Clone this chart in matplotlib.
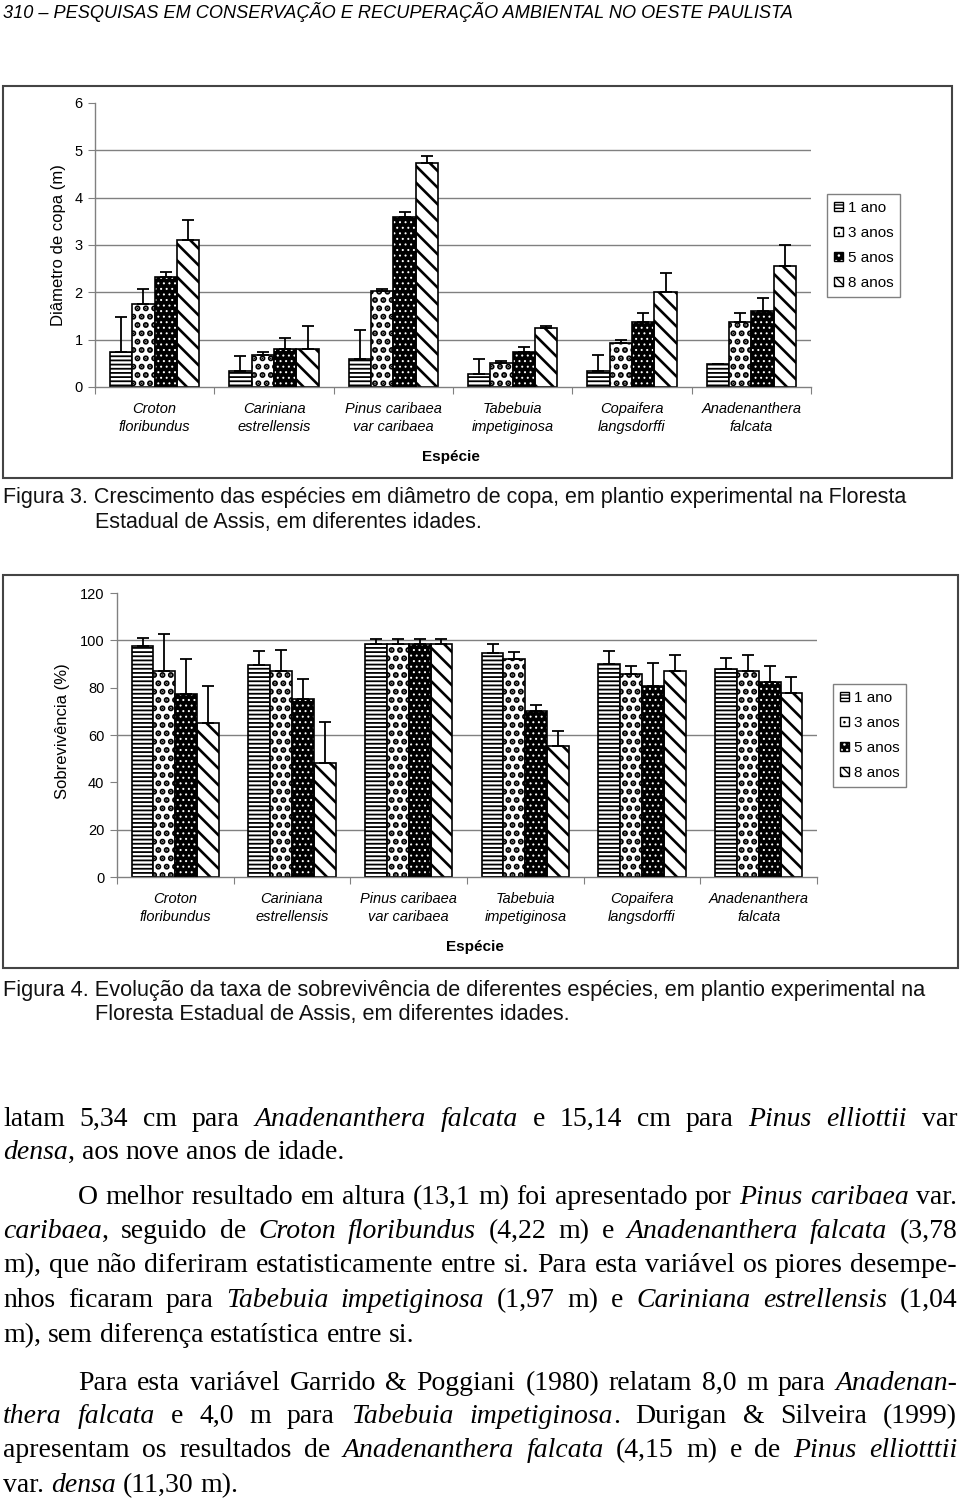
import matplotlib
matplotlib.use('Agg')
import matplotlib.pyplot as plt
from matplotlib.patches import Rectangle, Patch
from matplotlib.legend_handler import HandlerTuple
from matplotlib import font_manager
import numpy as np

W, H = 960, 1504

especies = ['Croton\nfloribundus', 'Cariniana\nestrellensis', 'Pinus caribaea\nvar caribaea',
            'Tabebuia\nimpetiginosa', 'Copaifera\nlangsdorffi', 'Anadenanthera\nfalcata']
idades = ['1 ano', '3 anos', '5 anos', '8 anos']

# Figura 3: diametro de copa (m) - media e topo da barra de erro
copa_1 = [0.74, 0.33, 0.59, 0.27, 0.33, 0.48]
copa_3 = [1.76, 0.67, 2.03, 0.51, 0.92, 1.38]
copa_5 = [2.32, 0.80, 3.60, 0.75, 1.38, 1.61]
copa_8 = [3.11, 0.80, 4.74, 1.24, 2.01, 2.56]
copa_1_sup = [1.48, 0.66, 1.21, 0.60, 0.67, 0.48]
copa_3_sup = [2.07, 0.74, 2.08, 0.55, 1.00, 1.57]
copa_5_sup = [2.44, 1.04, 3.70, 0.84, 1.57, 1.88]
copa_8_sup = [3.53, 1.28, 4.88, 1.29, 2.40, 3.00]

# Figura 4: sobrevivencia (%) - media e topo da barra de erro
sobr_1 = [97.7, 89.4, 98.3, 94.6, 89.8, 87.8]
sobr_3 = [87.2, 87.2, 98.3, 92.3, 85.6, 87.2]
sobr_5 = [77.2, 75.1, 98.3, 70.3, 80.9, 82.4]
sobr_8 = [65.2, 48.0, 98.3, 55.2, 87.2, 77.6]
sobr_1_sup = [100.9, 95.4, 100.5, 98.3, 95.4, 92.6]
sobr_3_sup = [102.8, 96.0, 100.5, 95.0, 89.1, 93.7]
sobr_5_sup = [92.0, 83.6, 100.5, 72.8, 90.4, 89.2]
sobr_8_sup = [80.8, 65.6, 100.5, 61.7, 93.7, 84.7]

cabecalho = '310 – PESQUISAS EM CONSERVAÇÃO E RECUPERAÇÃO AMBIENTAL NO OESTE PAULISTA'
legenda3 = ['Figura 3. Crescimento das espécies em diâmetro de copa, em plantio experimental na Floresta',
            'Estadual de Assis, em diferentes idades.']
legenda4 = ['Figura 4. Evolução da taxa de sobrevivência de diferentes espécies, em plantio experimental na',
            'Floresta Estadual de Assis, em diferentes idades.']

# texto corrido: (linha, recuo, baseline, justificada)  -- *...* = italico
corpo = [
    ('latam 5,34 cm para *Anadenanthera falcata* e 15,14 cm para *Pinus elliottii* var', 3, 1126, True),
    ('*densa*, aos nove anos de idade.', 3, 1159, False),
    ('O melhor resultado em altura (13,1 m) foi apresentado por *Pinus caribaea* var.', 78, 1204, True),
    ('*caribaea*, seguido de *Croton floribundus* (4,22 m) e *Anadenanthera falcata* (3,78', 3, 1238, True),
    ('m), que não diferiram estatisticamente entre si. Para esta variável os piores desempe-', 3, 1272, True),
    ('nhos ficaram para *Tabebuia impetiginosa* (1,97 m) e *Cariniana estrellensis* (1,04', 3, 1307, True),
    ('m), sem diferença estatística entre si.', 3, 1342, False),
    ('Para esta variável Garrido & Poggiani (1980) relatam 8,0 m para *Anadenan-*', 78, 1390, True),
    ('*thera falcata* e 4,0 m para *Tabebuia impetiginosa*. Durigan & Silveira (1999)', 3, 1423, True),
    ('apresentam os resultados de *Anadenanthera falcata* (4,15 m) e de *Pinus elliotttii*', 3, 1457, True),
    ('var. *densa* (11,30 m).', 3, 1492, False),
]

plt.rcParams['font.family'] = ['Liberation Sans', 'DejaVu Sans']
nomes = {f.name for f in font_manager.fontManager.ttflist}
narrow = 'Liberation Sans Narrow' if 'Liberation Sans Narrow' in nomes else 'Liberation Sans'

fig = plt.figure(figsize=(W / 100, H / 100), dpi=100)
renderer = fig.canvas.get_renderer()


def fx(x):
    return x / W


def fy(y):
    return 1 - y / H


def rect(x0, y0, x1, y1):
    return [fx(x0), fy(y1), (x1 - x0) / W, (y1 - y0) / H]


def hlw(p, lw):
    if hasattr(p, 'set_hatch_linewidth'):
        p.set_hatch_linewidth(lw)


cinza = '#808080'
bw = 0.75 / 4


def grafico(caixa, area, medias, sups, ymax, ystep, grades, ylabel, ylab_xy, esp_xy, leg_xy):
    fig.add_artist(Rectangle((fx(caixa[0]), fy(caixa[3])), (caixa[2] - caixa[0]) / W,
                             (caixa[3] - caixa[1]) / H, transform=fig.transFigure,
                             fill=False, edgecolor='#444444', lw=1.5))
    ax = fig.add_axes(rect(*area))
    x = np.arange(len(especies))
    handles = []
    for i, (v, s) in enumerate(zip(medias, sups)):
        v = np.array(v)
        s = np.array(s)
        xs = x + (i - 1.5) * bw
        if i == 0:
            bars = ax.bar(xs, v, bw, facecolor='white', edgecolor='black', hatch='----', lw=1.2, zorder=2)
            for p in bars:
                hlw(p, 1.3)
            h = Patch(facecolor='white', edgecolor='black', hatch='-----', lw=1.0)
            hlw(h, 1.0)
        elif i == 1:
            bars = ax.bar(xs, v, bw, facecolor='white', edgecolor='black', hatch='..', lw=1.2, zorder=2)
            for p in bars:
                hlw(p, 3.0)
            h = Patch(facecolor='white', edgecolor='black', hatch='...', lw=1.0)
            hlw(h, 2.0)
        elif i == 2:
            bars = ax.bar(xs, v, bw, facecolor='black', edgecolor='white', hatch='...', lw=0, zorder=2)
            for p in bars:
                hlw(p, 0.7)
            ax.bar(xs, v, bw, fill=False, edgecolor='black', lw=1.2, zorder=3)
            h1 = Patch(facecolor='black', edgecolor='white', hatch='...', lw=0)
            hlw(h1, 0.7)
            h = (h1, Patch(fill=False, edgecolor='black', lw=1.0))
        else:
            bars = ax.bar(xs, v, bw, facecolor='white', edgecolor='black', hatch='\\\\', lw=1.2, zorder=2)
            for p in bars:
                hlw(p, 1.9)
            h = Patch(facecolor='white', edgecolor='black', hatch='\\\\\\\\', lw=1.0)
            hlw(h, 1.4)
        handles.append(h)
        ax.errorbar(xs, v, yerr=[np.zeros(len(v)), s - v], fmt='none', ecolor='black',
                    elinewidth=1.3, capsize=4, capthick=1.3, zorder=4)
    ax.set_xlim(-0.5, len(especies) - 0.5)
    ax.set_ylim(0, ymax)
    ax.set_yticks(np.arange(0, ymax + ystep / 2, ystep))
    ax.set_xticks(np.arange(-0.5, len(especies), 1))
    ax.set_xticklabels([])
    ax.set_xticks(x, minor=True)
    ax.set_xticklabels(especies, minor=True, style='italic', fontsize=10.5, linespacing=1.35)
    ax.tick_params(axis='x', which='major', length=5, color=cinza, direction='out')
    ax.tick_params(axis='x', which='minor', length=0, pad=11)
    ax.tick_params(axis='y', length=5, color=cinza, labelsize=10.5, pad=4)
    for g in grades:
        ax.axhline(g, color=cinza, lw=1, zorder=0)
    for sp in ['top', 'right']:
        ax.spines[sp].set_visible(False)
    for sp in ['left', 'bottom']:
        ax.spines[sp].set_color(cinza)
        ax.spines[sp].set_linewidth(1)
    fig.text(fx(ylab_xy[0]), fy(ylab_xy[1]), ylabel, rotation=90, ha='center', va='center', fontsize=12)
    fig.text(fx(esp_xy[0]), fy(esp_xy[1]), 'Espécie', ha='center', va='center',
             fontsize=11, fontweight='bold')
    leg = ax.legend(handles, idades, loc='upper left', bbox_to_anchor=(fx(leg_xy[0]), fy(leg_xy[1])),
                    bbox_transform=fig.transFigure, borderaxespad=0, fontsize=11,
                    handlelength=0.6, handleheight=0.6, handletextpad=0.3, labelspacing=0.72,
                    borderpad=0.45, fancybox=False, framealpha=1, edgecolor=cinza,
                    handler_map={tuple: HandlerTuple(ndivide=1, pad=0)})
    leg.get_frame().set_linewidth(1)
    return ax


grafico((3, 86, 952, 478), (95, 103, 811, 387),
        [copa_1, copa_3, copa_5, copa_8], [copa_1_sup, copa_3_sup, copa_5_sup, copa_8_sup],
        6, 1, [1, 2, 3, 4, 5], 'Diâmetro de copa (m)', (58, 245), (451, 457), (827, 194))

grafico((3, 575, 958, 968), (117, 593, 817, 877),
        [sobr_1, sobr_3, sobr_5, sobr_8], [sobr_1_sup, sobr_3_sup, sobr_5_sup, sobr_8_sup],
        120, 20, [20, 60, 100], 'Sobrevivência (%)', (63, 731), (475, 947), (833, 684))


def ajusta(x, y, s, largura, tam, **kw):
    t = fig.text(fx(x), fy(y), s, fontsize=tam, va='baseline', **kw)
    w = t.get_window_extent(renderer).width
    t.set_fontsize(tam * largura / w)
    return t


# cabecalho e legendas das figuras
ajusta(3, 18, cabecalho, 790, 12, family=narrow, style='italic')
t = ajusta(3, 503, legenda3[0], 905, 13, family=narrow, color='#111111')
fig.text(fx(95), fy(528), legenda3[1], fontsize=t.get_fontsize(), family=narrow, va='baseline',
         color='#111111')
t = ajusta(3, 996, legenda4[0], 923, 13, family=narrow, color='#111111')
fig.text(fx(95), fy(1020), legenda4[1], fontsize=t.get_fontsize(), family=narrow, va='baseline',
         color='#111111')


def separa(linha):
    palavras, cur, buf, ital = [], [], '', False
    for ch in linha:
        if ch == '*':
            if buf:
                cur.append((buf, ital))
                buf = ''
            ital = not ital
        elif ch == ' ':
            if buf:
                cur.append((buf, ital))
                buf = ''
            if cur:
                palavras.append(cur)
                cur = []
        else:
            buf += ch
    if buf:
        cur.append((buf, ital))
    if cur:
        palavras.append(cur)
    return palavras


direita = 957
for linha, x0, yb, just in corpo:
    palavras = separa(linha)
    tam = 20
    pecas = [[fig.text(0, 0, s, fontsize=tam, family='Liberation Serif', va='baseline',
                       style='italic' if it else 'normal') for s, it in p] for p in palavras]
    for _ in range(5):
        larg = [[t.get_window_extent(renderer).width for t in p] for p in pecas]
        total = sum(sum(l) for l in larg)
        ngap = len(pecas) - 1
        esp = (direita - x0 - total) / ngap if just else 0.25 * tam * 100 / 72
        if esp >= 0.2 * tam * 100 / 72 or not just:
            break
        tam *= (direita - x0 - ngap * 0.2 * tam * 100 / 72) / total
        for p in pecas:
            for t in p:
                t.set_fontsize(tam)
    x = x0
    for p, l in zip(pecas, larg):
        for t, w in zip(p, l):
            t.set_position((fx(x), fy(yb)))
            x += w
        x += esp

fig.savefig('out.png', dpi=100)
